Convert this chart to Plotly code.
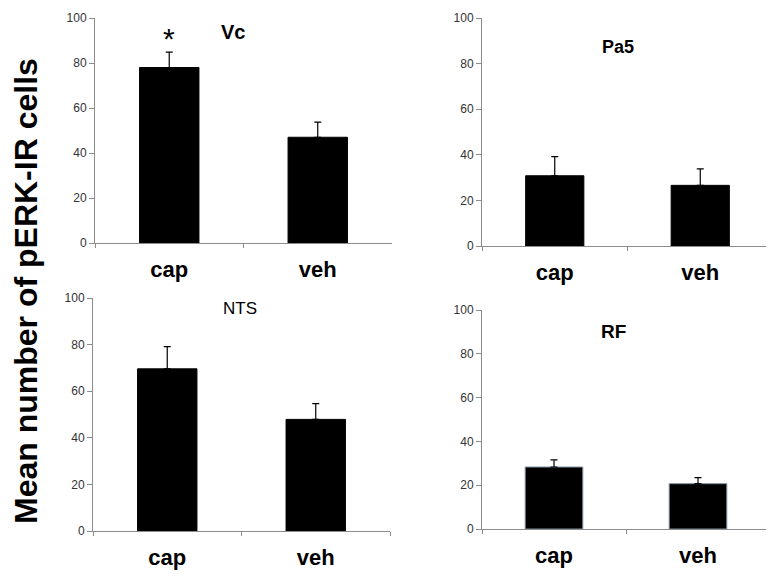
import plotly.graph_objects as go

categories = ["cap", "veh"]
panel_titles = ["Vc", "Pa5", "NTS", "RF"]
vc_means = [78, 47]
vc_err = [6.8, 6.7]
pa5_means = [30.8, 26.6]
pa5_err = [8.4, 7.2]
nts_means = [69.6, 47.9]
nts_err = [9.5, 6.8]
rf_means = [28.3, 20.7]
rf_err = [3.3, 2.8]
y_ticks = [0, 20, 40, 60, 80, 100]
star_y = 91
y_title = "Mean number of pERK-IR cells"

means = [vc_means, pa5_means, nts_means, rf_means]
errs = [vc_err, pa5_err, nts_err, rf_err]

OFF = 8  # default page body margin
W, H = 774 - OFF, 576 - OFF


def fx(px):
    return (px - OFF) / W


def fy(py):
    return 1 - (py - OFF) / H


# panel pixel boxes in the reference (x0, x1, ytop, ybottom)
boxes = [(95, 392, 18, 243), (482, 773, 18, 246), (93, 390, 298, 531), (482, 770, 310, 529)]
title_pos = [(0.465, 0.94, 20, True), (0.467, 0.873, 18, True), (0.495, 0.953, 17, False), (0.455, 0.90, 19, True)]
outline = ["black", "black", "black", "#7f8f9f"]

fig = go.Figure()
font = "Liberation Sans, Arial, sans-serif"
for i in range(4):
    x0, x1, yt, yb = boxes[i]
    suffix = "" if i == 0 else str(i + 1)
    fig.add_trace(go.Bar(
        x=categories, y=means[i], width=0.4,
        marker=dict(color="black", line=dict(color=outline[i], width=1)),
        error_y=dict(type="data", symmetric=False, array=errs[i], arrayminus=[0, 0],
                     color="black", thickness=1.2, width=3.5),
        xaxis="x" + suffix, yaxis="y" + suffix, showlegend=False,
    ))
    fig.update_layout(**{
        "xaxis" + suffix: dict(domain=[fx(x0), min(fx(x1), 1)], anchor="y" + suffix, automargin=False,
                               showline=True, linecolor="#8c8c8c", linewidth=1,
                               ticks="outside", tickson="boundaries", ticklen=4, tickcolor="#8c8c8c",
                               tickfont=dict(family=font, size=22, color="black", weight="bold"),
                               ticklabelstandoff=7, showgrid=False, zeroline=False,
                               range=[-0.5, 1.5]),
        "yaxis" + suffix: dict(domain=[fy(yb), fy(yt)], anchor="x" + suffix, automargin=False,
                               range=[0, 100], tickvals=y_ticks, showline=True,
                               linecolor="#8c8c8c", linewidth=1, ticks="outside", ticklen=5,
                               tickcolor="#8c8c8c", showgrid=False, zeroline=False,
                               tickfont=dict(family=font, size=12, color="#333333")),
    })
    tx, ty, ts, tb = title_pos[i]
    fig.add_annotation(text=panel_titles[i], xref="x" + suffix + " domain", yref="y" + suffix + " domain",
                       x=tx, y=ty, showarrow=False, xanchor="center", yanchor="middle",
                       font=dict(family=font, size=ts, color="black", weight="bold" if tb else "normal"))

fig.add_annotation(text="*", x=categories[0], y=star_y, xref="x", yref="y", showarrow=False,
                   xanchor="center", yanchor="middle",
                   font=dict(family=font, size=30, color="black"))
fig.add_annotation(text=y_title, xref="paper", yref="paper", x=fx(26), y=fy(291),
                   textangle=-90, showarrow=False, xanchor="center", yanchor="middle",
                   font=dict(family=font, size=32, color="black", weight="bold"))

fig.update_layout(width=W, height=H, margin=dict(l=0, r=0, t=0, b=0, autoexpand=False),
                  plot_bgcolor="white", paper_bgcolor="white", bargap=0.6)
fig.write_html("out.html")
